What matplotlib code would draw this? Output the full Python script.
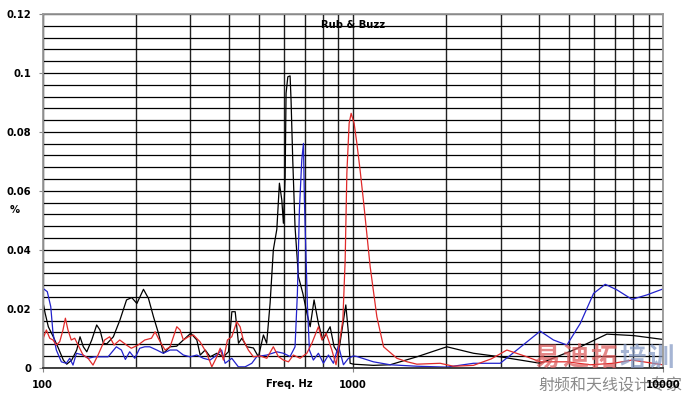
import numpy as np
import matplotlib.pyplot as plt

# frequency (Hz) / rub & buzz (%)
black_f = [100, 101.9, 104.4, 108.3, 112.4, 116.7, 119.7, 124.2, 128.9, 132.1,
           135.4, 138.9, 144.1, 149.5, 153.2, 157.1, 161.1, 169.2, 177.7, 186.6,
           193.9, 201.5, 211.6, 219.6, 227.9, 236.5, 245.4, 257.8, 270.8, 284.5,
           300.6, 314.5, 322.4, 334.7, 347.3, 364.8, 383.2, 397.7, 407.9, 418.1,
           428.5, 439.4, 455.9, 478.7, 496.9, 515.6, 528.2, 541.9, 555, 569.6,
           580.6, 591, 598, 605.8, 610, 618, 628.5, 633, 641, 652,
           668.6, 691, 711.7, 729.5, 751, 775.6, 801.5, 846, 871.5, 900,
           950.6, 969.4, 981.6, 1006, 1167, 1321, 1611, 2013, 2453, 2991,
           4026, 5157, 6607, 8050, 10000]
black_v = [0.023, 0.0186, 0.0139, 0.0105, 0.0067, 0.0026, 0.0012, 0.0026, 0.006, 0.0105,
           0.0071, 0.0054, 0.0094, 0.0145, 0.0128, 0.0083, 0.0081, 0.0105, 0.0162, 0.023,
           0.0238, 0.0218, 0.0266, 0.0235, 0.0173, 0.0117, 0.0049, 0.0071, 0.0073, 0.0094,
           0.0117, 0.0094, 0.0043, 0.006, 0.0037, 0.0049, 0.0037, 0.0054, 0.019, 0.019,
           0.0083, 0.01, 0.0071, 0.0067, 0.0037, 0.0111, 0.0083, 0.022, 0.040, 0.047,
           0.0626, 0.0569, 0.049, 0.0648, 0.0931, 0.0987, 0.099, 0.0908, 0.0705, 0.0478,
           0.0309, 0.0252, 0.0186, 0.0139, 0.023, 0.015, 0.0094, 0.0139, 0.0071, 0.0049,
           0.0213, 0.0117, 0.0015, 0.0012, 0.0008, 0.001, 0.0037, 0.0071, 0.0049, 0.0037,
           0.0015, 0.006, 0.0114, 0.0109, 0.0096]

blue_f = [100.4, 103.6, 106.3, 108.1, 110.8, 115, 119.3, 122.4, 125.4, 128.6,
          135.1, 140.2, 147.3, 152.9, 162.7, 173, 179.6, 185, 191, 198.4,
          205.8, 213.6, 221.6, 233.6, 245, 257.8, 271, 284.6, 299, 314.5,
          330, 347, 364.7, 378, 388, 407.6, 428, 450, 473, 491,
          528.7, 569.6, 598, 628.5, 652, 663.5, 673.5, 685.5, 694, 699,
          708, 715, 725.5, 747, 775.6, 805, 835.6, 867, 900, 934,
          969.4, 1006, 1032, 1167, 1321, 1611, 2013, 2453, 2991, 3385,
          4026, 4443, 4909, 5419, 5983, 6525, 7117, 7955, 8893, 10000]
blue_v = [0.0269, 0.0258, 0.0207, 0.0117, 0.006, 0.002, 0.0015, 0.0032, 0.0009, 0.0049,
          0.0043, 0.0032, 0.0037, 0.0037, 0.0037, 0.0071, 0.006, 0.0028, 0.0054, 0.0032,
          0.0066, 0.0071, 0.0071, 0.006, 0.0049, 0.006, 0.006, 0.0043, 0.0037, 0.0043,
          0.0032, 0.0026, 0.0043, 0.006, 0.0015, 0.0032, 0.0003, 0.0003, 0.0015, 0.0038,
          0.0043, 0.0054, 0.0049, 0.0038, 0.0071, 0.0252, 0.0535, 0.0705, 0.0761, 0.0569,
          0.0365, 0.0207, 0.006, 0.0026, 0.0049, 0.0015, 0.0043, 0.0015, 0.0075, 0.001,
          0.0032, 0.004, 0.0038, 0.002, 0.001, 0.0005, 0.0002, 0.0015, 0.0015, 0.006,
          0.0124, 0.0094, 0.0077, 0.015, 0.0252, 0.0283, 0.0264, 0.0232, 0.0247, 0.0267]

red_f = [100, 102.9, 105.5, 108.1, 110.8, 113.6, 116.4, 118.5, 120.8, 123.8,
         127, 130.2, 135.1, 140.2, 145.5, 151, 158.6, 164.6, 170.1, 177.4,
         186.5, 193.3, 203.4, 213.6, 224.5, 230.7, 239.4, 248.5, 257.8, 271,
         277.7, 284.6, 295.3, 306.6, 322, 338.6, 351.5, 364.7, 374, 383,
         394.7, 407.6, 423, 433.6, 444, 461, 478.6, 503, 528.7, 555,
         576, 598, 621, 644, 677, 711.7, 738.7, 775.6, 796, 821.3,
         857, 884, 906, 930, 946, 958, 974.3, 989, 1011, 1032,
         1057, 1083, 1139, 1197, 1258, 1389, 1500, 1611, 1916, 2114,
         2453, 2800, 3144, 3647, 4026, 4909, 5834, 6937, 7955, 10000]
red_v = [0.0094, 0.0128, 0.01, 0.0094, 0.0077, 0.0088, 0.0128, 0.0168, 0.0128, 0.0094,
         0.01, 0.0077, 0.0043, 0.0032, 0.0009, 0.0043, 0.0094, 0.0105, 0.0077, 0.0094,
         0.0077, 0.0066, 0.0077, 0.0094, 0.01, 0.0122, 0.0088, 0.006, 0.0071, 0.0139,
         0.0128, 0.0094, 0.0105, 0.0111, 0.0088, 0.0049, 0.0003, 0.0037, 0.0066, 0.0026,
         0.0094, 0.0105, 0.0156, 0.0139, 0.0094, 0.006, 0.0037, 0.004, 0.0032, 0.0071,
         0.0038, 0.0026, 0.002, 0.0043, 0.0032, 0.0049, 0.0083, 0.0139, 0.0094, 0.0117,
         0.006, 0.001, 0.0083, 0.0162, 0.0365, 0.066, 0.0829, 0.0863, 0.0829, 0.0761,
         0.067, 0.0569, 0.0343, 0.0173, 0.0071, 0.0032, 0.002, 0.0012, 0.0015, 0.0005,
         0.0008, 0.003, 0.006, 0.0037, 0.002, 0.002, 0.001, 0.0015, 0.0026, 0.001]

x_ticks = [100, 1000, 10000]
x_tick_labels = ['100', '1000', '10000']
y_ticks = [0, 0.02, 0.04, 0.06, 0.08, 0.1, 0.12]
y_tick_labels = ['0', '0.02', '0.04', '0.06', '0.08', '0.1', '0.12']

lab_font = dict(family='DejaVu Sans', weight='bold', size=7.2)

fig = plt.figure(figsize=(6.87, 3.98), dpi=100)
ax = fig.add_axes([0.0619, 0.0761, 0.9028, 0.8887])
ax.set_xscale('log')
ax.set_xlim(100, 10000)
ax.set_ylim(0, 0.12)

ax.set_xticks(x_ticks)
ax.set_xticks([m * d for d in (100, 1000) for m in range(2, 10)], minor=True)
ax.set_xticklabels(x_tick_labels, fontdict=lab_font)
ax.set_yticks(y_ticks)
ax.set_yticks(np.arange(0, 0.1201, 0.004), minor=True)
ax.set_yticklabels(y_tick_labels, fontdict=lab_font)
ax.tick_params(which='major', length=3, color='#888888', direction='out')
ax.tick_params(axis='x', which='major', pad=6)
ax.tick_params(axis='y', which='major', pad=5)
ax.tick_params(which='minor', length=0)

ax.set_axisbelow(True)
ax.grid(which='both', axis='y', color='black', lw=0.9)
ax.grid(which='both', axis='x', color='#222222', lw=1.0)
for s in ax.spines.values():
    s.set_color('#999999')
    s.set_linewidth(1.3)
ax.spines['bottom'].set_color('#333333')

ax.plot(black_f, black_v, color='black', lw=0.9)
ax.plot(blue_f, blue_v, color='#2222cc', lw=0.9)
ax.plot(red_f, red_v, color='#e02a2a', lw=0.9)

ax.text(1000, 0.1163, 'Rub & Buzz', ha='center', va='center', fontdict=lab_font)
ax.text(624, -0.0055, 'Freq. Hz', ha='center', va='center', fontdict=lab_font, clip_on=False)
fig.text(15 / 687, 1 - 210 / 398, '%', ha='center', va='center', fontdict=lab_font)

# watermark
wm_chars = ['易', '迪', '拓', '培', '训']
wm_cols = ['#dc5a5a', '#dc5a5a', '#dc5a5a', '#8499c4', '#8499c4']
for i, (ch, c) in enumerate(zip(wm_chars, wm_cols)):
    fig.text((547 + 28.4 * i) / 687, 1 - 358 / 398, ch, ha='center', va='center',
             family='Noto Sans CJK SC', weight='heavy', size=19, color=c, alpha=0.72)
fig.text(610 / 687, 1 - 386 / 398, '射频和天线设计专家', ha='center', va='center',
         family='Noto Sans CJK SC', size=11.5, color='#8a8a8a', zorder=-1)

fig.savefig('out.png', dpi=100)
